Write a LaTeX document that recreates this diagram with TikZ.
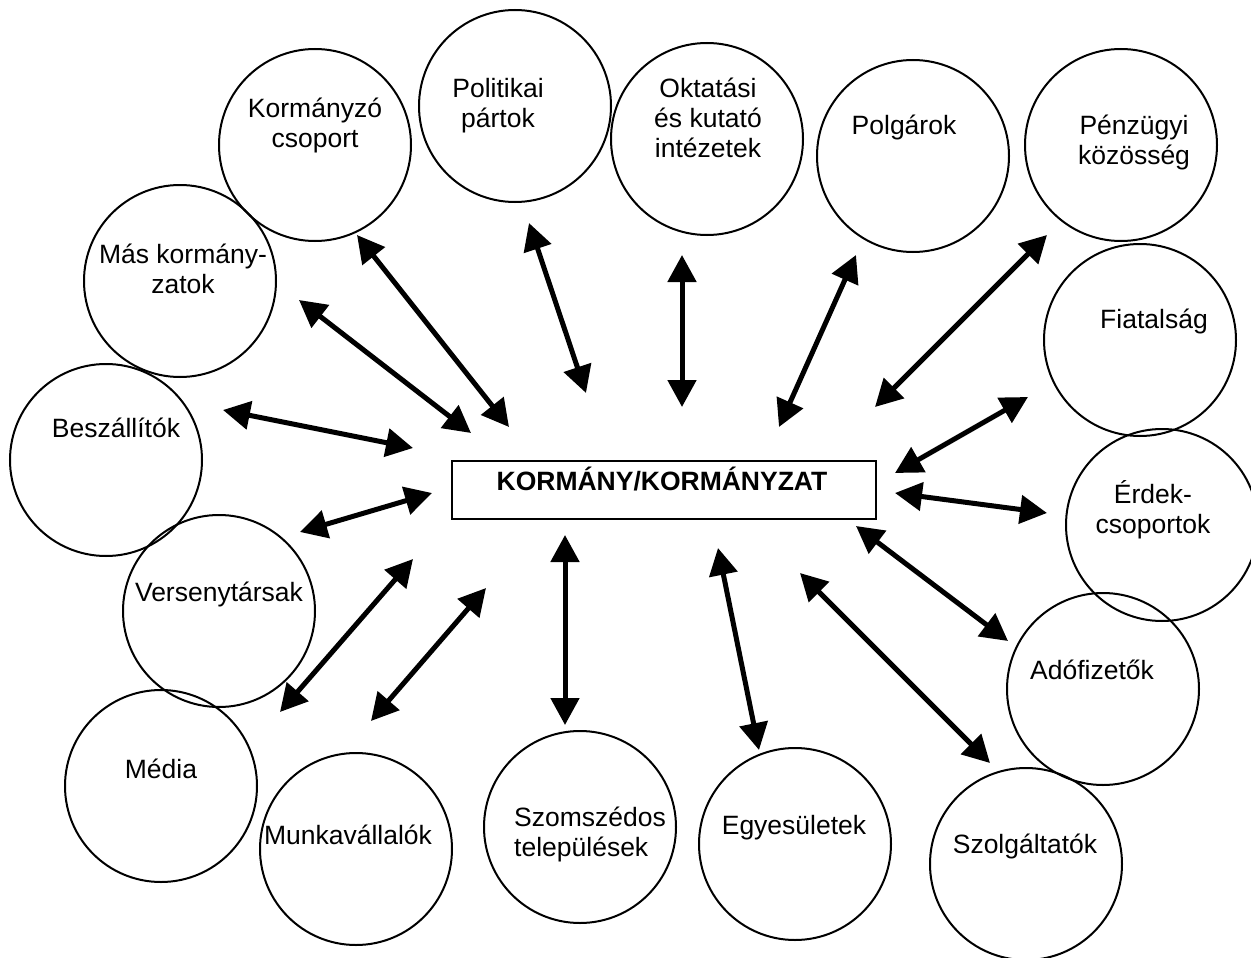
\documentclass[tikz,border=0pt]{standalone}
\usepackage{fontspec}
\setmainfont{Liberation Sans}
\usetikzlibrary{arrows.meta}
\begin{document}
\begin{tikzpicture}[x=1pt,y=-1pt,
  group/.style={circle,draw,line width=2pt,minimum size=192pt,inner sep=0pt},
  label/.style={font=\fontsize{26.5}{30}\selectfont,align=center,anchor=base,inner sep=0pt},
  centre/.style={draw,line width=2pt,minimum width=424pt,minimum height=58pt,inner sep=0pt},
  link/.style={line width=5pt,{Triangle[length=27pt,width=28pt]}-{Triangle[length=27pt,width=28pt]}}]
\useasboundingbox (0,0) rectangle (1251,958);

% stakeholder circles
\node[group] (c1)  at (315,145) {};
\node[group] (c2)  at (515,106) {};
\node[group] (c3)  at (707,139) {};
\node[group] (c4)  at (913,156) {};
\node[group] (c5)  at (1121,145) {};
\node[group] (c6)  at (1140,340) {};
\node[group] (c7)  at (1162,525) {};
\node[group] (c8)  at (1103,689) {};
\node[group] (c9)  at (1026,864) {};
\node[group] (c10) at (795,844) {};
\node[group] (c11) at (580,827) {};
\node[group] (c12) at (356,849) {};
\node[group] (c13) at (161,786) {};
\node[group] (c14) at (219,611) {};
\node[group] (c15) at (106,460) {};
\node[group] (c16) at (180,281) {};

% circle captions (base anchor sits on the last line)
\node[label] (t1)  at (315,147) {Kormányzó\\csoport};
\node[label] (t2)  at (498,128) {Politikai\\pártok};
\node[label] (t3)  at (708,157) {Oktatási\\és kutató\\intézetek};
\node[label] (t4)  at (904,134) {Polgárok};
\node[label] (t5)  at (1134,164) {Pénzügyi\\közösség};
\node[label] (t6)  at (1154,328) {Fiatalság};
\node[label] (t7)  at (1153,533) {Érdek-\\csoportok};
\node[label] (t8)  at (1092,679) {Adófizetők};
\node[label] (t9)  at (1025,853) {Szolgáltatók};
\node[label] (t10) at (794,834) {Egyesületek};
\node[label,align=left,anchor=base west] (t11) at (514,856) {Szomszédos\\települések};
\node[label] (t12) at (348,844) {Munkavállalók};
\node[label] (t13) at (161,778) {Média};
\node[label] (t14) at (219,601) {Versenytársak};
\node[label] (t15) at (116,437) {Beszállítók};
\node[label] (t16) at (183,293) {Más kormány-\\zatok};

% central box
\node[centre] (gov) at (664,490) {};
\node[label,font=\fontsize{26.5}{30}\selectfont\bfseries] (govt) at (662,490) {KORMÁNY/KORMÁNYZAT};

% arrow ends
\coordinate (a1o) at (357,235);  \coordinate (a1i) at (509,427);
\coordinate (a2o) at (529,223);  \coordinate (a2i) at (586,393);
\coordinate (a3o) at (682,255);  \coordinate (a3i) at (682,407);
\coordinate (a4o) at (856,255);  \coordinate (a4i) at (779,427);
\coordinate (a5o) at (1047,235); \coordinate (a5i) at (875,407);
\coordinate (a6o) at (1028,397); \coordinate (a6i) at (895,473);
\coordinate (a7o) at (1047,513); \coordinate (a7i) at (895,493);
\coordinate (a8o) at (1008,641); \coordinate (a8i) at (856,526);
\coordinate (a9o) at (990,763);  \coordinate (a9i) at (800,573);
\coordinate (a10o) at (759,750); \coordinate (a10i) at (718,548);
\coordinate (a11o) at (565,725); \coordinate (a11i) at (565,535);
\coordinate (a12o) at (371,721); \coordinate (a12i) at (486,588);
\coordinate (a13o) at (280,712); \coordinate (a13i) at (413,559);
\coordinate (a14o) at (300,532); \coordinate (a14i) at (432,493);
\coordinate (a15o) at (223,410); \coordinate (a15i) at (413,448);
\coordinate (a16o) at (299,300); \coordinate (a16i) at (471,433);

\foreach \i in {1,...,16}
  \draw[link] (a\i o) -- (a\i i);
\end{tikzpicture}
\end{document}
